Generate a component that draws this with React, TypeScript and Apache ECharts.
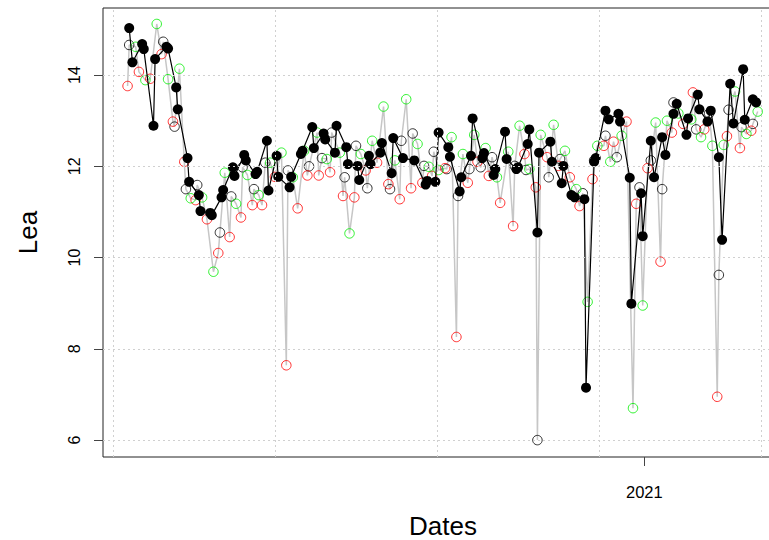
import { useEffect, useRef } from 'react';
import * as echarts from 'echarts';

// x values are days since 1970-01-01, stored as offsets from DAY0
const DAY0 = 18300;

// black line with filled points
const filledDay = [10,12,18,19,25,26,33,34,39,40,46,47,53,54,60,61,67,68,74,75,81,82,88,89,95,96,101,102,109,110,116,117,123,124,130,131,137,138,144,145,151,152,158,159,165,166,172,173,179,186,193,194,199,201,207,208,214,215,221,222,228,229,235,236,242,243,249,250,256,257,262,263,270,271,277,278,283,285,291,292,297,298,304,306,312,313,319,320,326,327,332,334,339,341,346,348,354,355,361,362,367,369,374,376,381,383,389,390,395,397];
const filledValue = [15.03,14.28,14.68,14.57,12.89,14.35,14.62,14.58,13.73,13.25,12.18,11.66,11.37,11.02,10.98,10.93,11.32,11.48,11.98,11.79,12.25,12.13,11.83,11.88,12.56,11.47,12.23,11.77,11.54,11.77,12.27,12.34,12.86,12.40,12.72,12.59,12.30,12.89,12.42,12.05,12.01,11.70,12.23,12.05,12.30,12.51,11.85,12.62,12.18,12.13,11.60,11.68,11.66,12.74,12.42,12.21,11.45,11.76,12.23,13.05,12.18,12.29,11.81,11.94,12.76,12.16,11.94,11.98,12.49,12.81,10.55,12.30,12.54,12.10,11.63,12.01,11.37,11.32,11.28,7.15,12.10,12.18,13.22,13.03,13.15,12.98,11.75,8.99,11.41,10.47,12.56,11.76,12.64,12.25,13.15,13.37,12.69,13.05,13.57,13.25,12.98,13.22,12.20,10.39,13.81,12.94,14.13,13.02,13.47,13.40];

// open circles, black
const blackDay = [10,31,38,45,52,66,73,80,87,94,108,121,129,135,143,150,157,171,178,185,192,198,206,213,220,227,234,248,255,262,269,276,290,297,304,311,325,332,339,346,360,368,374,380,388,395];
const blackValue = [14.66,14.73,12.87,11.50,11.59,10.55,11.34,11.98,11.50,12.08,11.91,12.00,12.18,12.74,11.76,12.45,11.52,11.50,12.56,12.72,12.01,12.32,11.94,11.35,11.94,11.98,12.20,12.01,11.92,6.00,11.76,12.16,11.41,12.13,12.67,12.20,11.54,12.13,11.50,13.40,12.81,13.16,9.62,13.24,12.86,12.93];

// open circles, red
const redDay = [9,16,23,30,37,44,51,58,65,72,79,86,92,100,107,114,120,127,134,142,149,156,163,170,177,184,191,197,205,212,219,225,232,239,247,254,261,268,275,282,288,296,303,309,317,323,330,338,345,352,358,365,373,379,387,394];
const redValue = [13.76,14.07,13.92,14.46,12.98,12.10,11.26,10.84,10.10,10.45,10.88,11.15,11.15,11.77,7.64,11.08,11.80,11.80,11.87,11.35,11.32,11.91,12.08,11.61,11.28,11.52,11.64,11.79,11.96,8.26,11.64,12.10,11.79,11.20,10.69,12.27,11.54,12.20,12.01,11.76,11.13,11.72,12.45,12.54,12.98,11.18,11.96,9.91,12.74,12.93,13.62,12.81,6.95,12.66,12.40,12.78];

// open circles, green
const greenDay = [14,20,27,34,41,48,55,62,69,76,83,90,97,104,111,118,126,132,140,146,153,160,167,174,181,188,195,201,209,216,223,230,237,244,251,257,264,272,279,286,293,299,307,314,321,327,335,342,349,357,363,370,377,384,391,398];
const greenValue = [14.62,13.89,15.12,13.91,14.14,11.30,11.32,9.69,11.86,11.18,11.81,11.37,12.08,12.30,11.76,12.34,12.74,12.16,12.30,10.53,12.27,12.56,13.31,12.13,13.47,12.49,11.99,11.92,12.64,12.27,12.69,12.40,11.76,12.32,12.89,11.94,12.69,12.91,12.34,11.50,9.03,12.45,12.10,12.67,6.70,8.95,12.96,13.00,13.16,13.03,12.64,12.45,12.47,13.64,12.71,13.20];

const yTicks = [6, 8, 10, 12, 14];
const xTicks = [18628]; // 2021-01-01
const xGrid = [18300, 18400, 18500, 18600, 18700];

const FONT = "'Liberation Sans', Arial, sans-serif";

export default function App() {
  const ref = useRef<HTMLDivElement>(null);
  useEffect(() => {
    const chart = echarts.init(ref.current!, null, { renderer: 'svg' });
    const pts = (d: number[], v: number[]) => d.map((x, i) => [DAY0 + x, v[i]]);
    const allOpen = [
      ...pts(blackDay, blackValue),
      ...pts(redDay, redValue),
      ...pts(greenDay, greenValue),
    ].sort((a, b) => a[0] - b[0]);
    const openSeries = (name: string, d: number[], v: number[], color: string) => ({
      name,
      type: 'scatter',
      z: 3,
      symbol: 'circle',
      symbolSize: 9.5,
      itemStyle: { color: 'rgba(0,0,0,0)', borderColor: color, borderWidth: 1 },
      data: pts(d, v),
    });
    chart.setOption({
      animation: false,
      backgroundColor: '#fff',
      grid: {
        left: 103, top: 8, width: 680, height: 449,
        outerBoundsMode: 'none', containLabel: false,
        show: true, borderColor: '#222', borderWidth: 1, backgroundColor: 'transparent',
      },
      xAxis: {
        type: 'value',
        min: DAY0 - 6.17,
        max: DAY0 + 413.6,
        axisLine: { show: false },
        splitLine: { show: false },
        axisTick: { show: true, customValues: xTicks, length: 9, lineStyle: { color: '#444' } },
        axisLabel: {
          customValues: xTicks,
          margin: 26,
          fontSize: 16.5,
          color: '#000',
          fontFamily: FONT,
          formatter: (val: number) => String(new Date(val * 86400000).getUTCFullYear()),
        },
        name: 'Dates',
        nameLocation: 'middle',
        nameGap: 56,
        nameTextStyle: { fontSize: 26, color: '#000', fontFamily: FONT },
      },
      yAxis: {
        type: 'value',
        min: 5.63,
        max: 15.47,
        axisLine: { show: false },
        splitLine: { show: false },
        axisTick: { show: true, customValues: yTicks, length: 9, lineStyle: { color: '#444' } },
        axisLabel: {
          customValues: yTicks,
          rotate: 90,
          margin: 21,
          fontSize: 16,
          color: '#000',
          fontFamily: FONT,
        },
        name: 'Lea',
        nameLocation: 'middle',
        nameGap: 62,
        nameTextStyle: { fontSize: 26, color: '#000', fontFamily: FONT },
      },
      series: [
        {
          type: 'line',
          z: 1,
          silent: true,
          data: [],
          markLine: {
            silent: true,
            symbol: 'none',
            animation: false,
            label: { show: false },
            lineStyle: { color: '#d0d0d0', type: [2, 3], width: 1 },
            data: [
              ...yTicks.map((v) => ({ yAxis: v })),
              ...xGrid.map((v) => ({ xAxis: v })),
            ],
          },
        },
        {
          type: 'line',
          z: 2,
          data: allOpen,
          showSymbol: false,
          lineStyle: { color: '#c6c6c6', width: 1.5 },
        },
        openSeries('black', blackDay, blackValue, '#000000'),
        openSeries('red', redDay, redValue, '#ff0000'),
        openSeries('green', greenDay, greenValue, '#00ee00'),
        {
          type: 'line',
          z: 4,
          data: pts(filledDay, filledValue),
          symbol: 'circle',
          symbolSize: 10,
          showSymbol: true,
          showAllSymbol: true,
          itemStyle: { color: '#000' },
          lineStyle: { color: '#000', width: 1.2 },
        },
      ],
    });
    return () => chart.dispose();
  }, []);
  return (
    <div style={{ position: 'absolute', left: 0, top: 0, width: 769, height: 540, overflow: 'hidden', background: '#fff' }}>
      <div ref={ref} style={{ width: 800, height: 540 }} />
    </div>
  );
}
